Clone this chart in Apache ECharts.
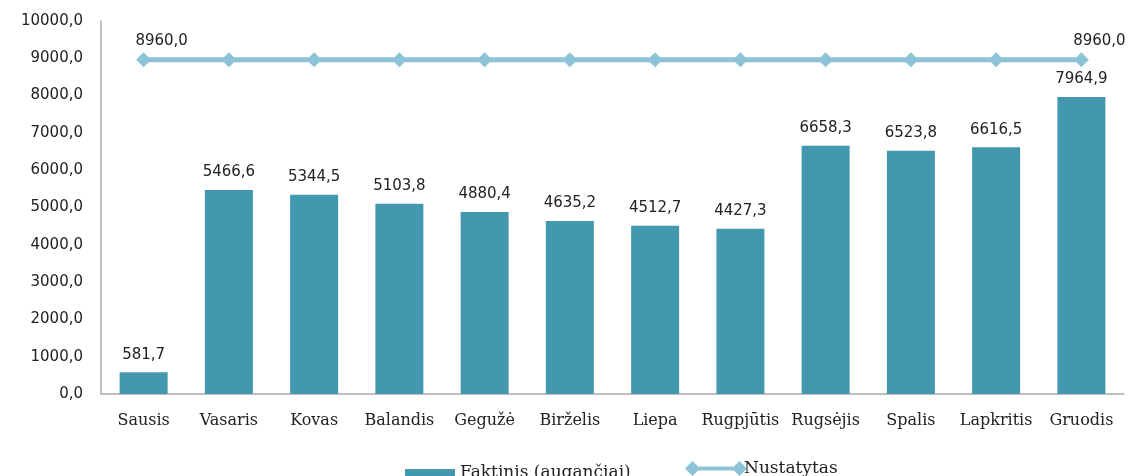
<!DOCTYPE html>
<html>
<head>
<meta charset="utf-8">
<script src="https://cdn.jsdelivr.net/npm/echarts@6/dist/echarts.min.js"></script>
<style>
  html, body { margin: 0; padding: 0; background: #fff; }
  #chart { width: 1144px; height: 476px; }
</style>
</head>
<body>
<div id="chart"></div>
<script>
// duomenys
const months = ['Sausis', 'Vasaris', 'Kovas', 'Balandis', 'Gegužė', 'Birželis', 'Liepa', 'Rugpjūtis', 'Rugsėjis', 'Spalis', 'Lapkritis', 'Gruodis']
const faktinis = [581.7, 5466.6, 5344.5, 5103.8, 4880.4, 4635.2, 4512.7, 4427.3, 6658.3, 6523.8, 6616.5, 7964.9]
const nustatytas = [8960, 8960, 8960, 8960, 8960, 8960, 8960, 8960, 8960, 8960, 8960, 8960]

const fmt = v => v.toFixed(1).replace('.', ',')
const numFont = 'DejaVu Sans'
const txtFont = 'DejaVu Serif'
const legendText = { fontFamily: txtFont, fontSize: 17, color: '#222' }

const myChart = echarts.init(document.getElementById('chart'))
myChart.setOption({
  animation: false,
  grid: { left: 101, right: 20, top: 21, bottom: 82 },
  legend: [
    {
      top: 459,
      left: 400,
      itemWidth: 50,
      itemHeight: 7,
      itemGap: 6,
      textStyle: legendText,
      data: [{ name: 'Faktinis (augančiai)', icon: 'rect' }]
    },
    {
      top: 455,
      left: 680,
      itemWidth: 62,
      itemHeight: 15,
      itemGap: 4,
      textStyle: Object.assign({}, legendText, { padding: [4, 0, 0, -8] }),
      data: [{
        name: 'Nustatytas',
        icon: 'path://M0,7.5 L7.5,0 L15,7.5 L7.5,15 Z M7.5,5.5 L54.5,5.5 L54.5,9.5 L7.5,9.5 Z M47,7.5 L54.5,0 L62,7.5 L54.5,15 Z'
      }]
    }
  ],
  xAxis: {
    type: 'category',
    data: months,
    axisLine: { lineStyle: { color: '#aaa', width: 1.5 } },
    axisTick: { show: false },
    axisLabel: { fontFamily: txtFont, fontSize: 16, color: '#222', margin: 19, interval: 0 }
  },
  yAxis: {
    type: 'value',
    min: 0,
    max: 10000,
    interval: 1000,
    splitLine: { show: false },
    axisLine: { show: true, lineStyle: { color: '#aaa', width: 1.5 } },
    axisTick: { show: false },
    axisLabel: { fontFamily: numFont, fontSize: 15, color: '#222', margin: 18, formatter: fmt }
  },
  series: [
    {
      name: 'Faktinis (augančiai)',
      type: 'bar',
      data: faktinis,
      barWidth: 48,
      itemStyle: { color: '#4398B0' },
      label: {
        show: true,
        position: 'top',
        distance: 10,
        fontFamily: numFont,
        fontSize: 15,
        color: '#222',
        formatter: p => fmt(p.value)
      }
    },
    {
      name: 'Nustatytas',
      type: 'line',
      data: nustatytas,
      symbol: 'diamond',
      symbolSize: 15,
      itemStyle: { color: '#8DC3D6' },
      lineStyle: { color: '#8DC3D6', width: 5 },
      label: {
        show: true,
        fontFamily: numFont,
        fontSize: 15,
        color: '#222',
        offset: [18, 1],
        formatter: p => (p.dataIndex === 0 || p.dataIndex === months.length - 1) ? fmt(p.value) : ''
      }
    }
  ]
})
</script>
</body>
</html>
